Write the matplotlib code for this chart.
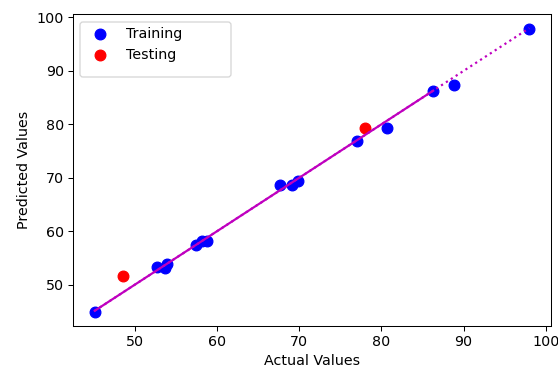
import matplotlib
matplotlib.use("Agg")
import matplotlib.pyplot as plt
from matplotlib.patches import FancyBboxPatch
from matplotlib.transforms import IdentityTransform

train_actual = [45.1, 52.7, 53.7, 53.9, 57.4, 58.1, 58.8, 67.6, 69.1, 69.8, 77.0, 80.7, 86.3, 88.8, 98.0]
train_pred   = [44.9, 53.3, 53.1, 53.9, 57.5, 58.1, 58.1, 68.6, 68.6, 69.3, 76.9, 79.3, 86.3, 87.3, 97.9]
test_actual = [48.5, 78.0]
test_pred   = [51.6, 79.4]
fit_solid_x = [45.1, 86.3]
fit_solid_y = [45.1, 86.3]
fit_dotted_x = [45.1, 98.0]
fit_dotted_y = [45.1, 98.0]

plt.rcParams['font.size'] = 11
W, H, DPI = 558, 373, 93
fig = plt.figure(figsize=(W/DPI, H/DPI), dpi=DPI)
ax = fig.add_axes([73/W, 1-326/H, (551-73)/W, (326-14)/H])
ax.scatter(train_actual, train_pred, color='blue', s=68, label='Training', zorder=2)
ax.scatter(test_actual, test_pred, color='red', s=68, label='Testing', zorder=2)
ax.plot(fit_dotted_x, fit_dotted_y, color='m', linestyle=':', linewidth=1.7, zorder=3)
ax.plot(fit_solid_x, fit_solid_y, color='m', linestyle='-', linewidth=1.7, zorder=3)

ax.set_xlabel('Actual Values')
ax.set_ylabel('Predicted Values')
ax.set_xticks([50, 60, 70, 80, 90, 100])
ax.set_yticks([50, 60, 70, 80, 90, 100])

leg = ax.legend(loc='upper left', frameon=False)
leg.set_zorder(6)
# legend frame (drawn wider/taller as in the reference)
x0, x1, ytop, ybot = 80, 231, 22, 77
frame = FancyBboxPatch((x0, H - ybot), x1 - x0, ybot - ytop,
                       boxstyle='round,pad=0,rounding_size=3',
                       transform=IdentityTransform(), facecolor='white',
                       edgecolor='0.8', alpha=0.8, linewidth=1.0, zorder=5)
ax.add_patch(frame)

fig.savefig('out.png', dpi=DPI)
